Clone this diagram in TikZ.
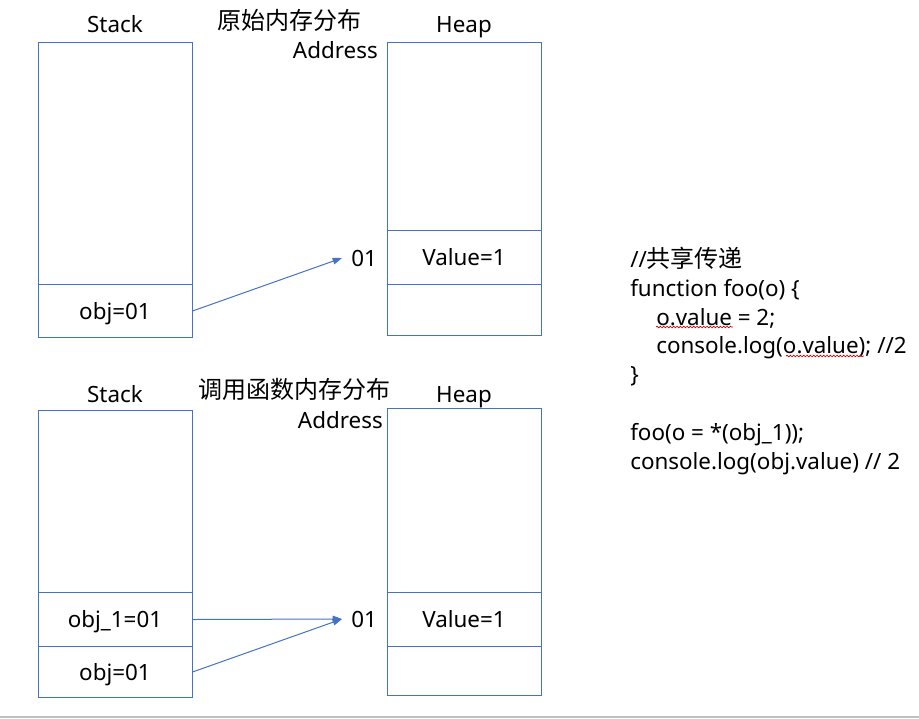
\documentclass[tikz,border=0pt]{standalone}
\usepackage{fontspec}
\setmainfont{Noto Sans}
\newfontfamily\cjk{Noto Sans CJK SC}
\usetikzlibrary{arrows.meta,decorations.pathmorphing}
\definecolor{boxblue}{RGB}{68,114,196}
\begin{document}
\begin{tikzpicture}[x=0.75pt,y=-0.75pt,
  cell/.style={draw=boxblue,line width=0.75pt,minimum width=115.5pt,inner sep=0pt,anchor=north,font=\fontsize{16.8}{20}\selectfont,text height=12pt,text depth=0pt},
  lbl/.style={font=\fontsize{16.8}{20}\selectfont,inner sep=0pt,text height=12pt,text depth=0pt},
  title/.style={font=\fontsize{18}{21}\selectfont\cjk,inner sep=0pt},
  code/.style={font=\fontsize{16.8}{20}\selectfont,inner sep=0pt,anchor=base west},
  ptr/.style={draw=boxblue,line width=0.75pt,-{Triangle[length=7pt,width=5pt]}},
  squig/.style={draw=red!80!black,line width=0.5pt,decorate,decoration={snake,amplitude=0.6pt,segment length=2.5pt}}]
\useasboundingbox (0,0) rectangle (919,718);
\draw[black!25,line width=1.5pt] (0,716.5) -- (919,716.5);

% original layout
\node[title] (titleA) at (289,20) {原始内存分布};
\node[lbl] (stkAname) at (115,24) {Stack};
\node[lbl] (heapAname) at (464,24) {Heap};
\node[lbl,anchor=east] (addrA) at (378,50) {Address};
\node[cell,minimum height=181.5pt] (stkA) at (115,42) {};
\node[cell,minimum height=39.75pt] (objA) at (115,284) {obj=01};
\node[cell,minimum height=141pt] (heapA) at (464,42) {};
\node[cell,minimum height=40.5pt] (valA) at (464,230) {Value=1};
\node[cell,minimum height=38.25pt] (freeA) at (464,284) {};
\node[lbl,anchor=west,inner xsep=6.75pt] (ptrA) at (342,258) {01};
\draw[ptr] (objA.east) -- (ptrA.west);

% layout during the call
\node[title] (titleB) at (294,389) {调用函数内存分布};
\node[lbl] (stkBname) at (115,394) {Stack};
\node[lbl] (heapBname) at (464,394) {Heap};
\node[lbl,anchor=east] (addrB) at (383,420) {Address};
\node[cell,minimum height=136.5pt] (stkB) at (115,410) {};
\node[cell,minimum height=40.5pt] (objoneB) at (115,592) {obj\_1=01};
\node[cell,minimum height=38.25pt] (objB) at (115,646) {obj=01};
\node[cell,minimum height=138pt] (heapB) at (464,408) {};
\node[cell,minimum height=40.5pt] (valB) at (464,592) {Value=1};
\node[cell,minimum height=36.75pt] (freeB) at (464,646) {};
\node[lbl,anchor=west,inner xsep=6.75pt] (ptrB) at (342,619) {01};
\draw[ptr] (objoneB.east) -- (ptrB.west);
\draw[ptr] (objB.east) -- (ptrB.west);

% code
\node[code] (codeA) at (630,267) {//{\cjk\fontsize{18}{20}\selectfont 共享传递}};
\node[code] (codeB) at (630,296) {function foo(o) \{};
\node[code] (codeC) at (656,325) {o.value = 2;};
\node[code] (codeD) at (656,353) {console.log(o.value); //2};
\node[code] (codeE) at (630,382) {\}};
\node[code] (codeF) at (630,440) {foo(o = *(obj\_1));};
\node[code] (codeG) at (630,469) {console.log(obj.value) // 2};
\draw[squig] (656,327) -- (733,327);
\draw[squig] (786,356) -- (864,356);
\end{tikzpicture}
\end{document}
